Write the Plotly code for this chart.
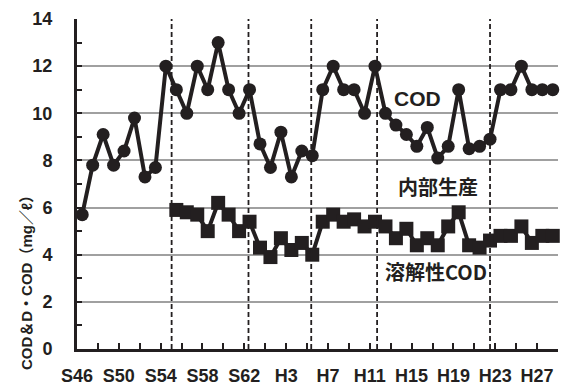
import plotly.graph_objects as go

# Annual mean values (mg/L)
cod_years = list(range(1971, 2017))
cod_values = [5.7, 7.8, 9.1, 7.8, 8.4, 9.8, 7.3, 7.7, 12.0, 11.0,
              10.0, 12.0, 11.0, 13.0, 11.0, 10.0, 11.0, 8.7, 7.7, 9.2,
              7.3, 8.4, 8.2, 11.0, 12.0, 11.0, 11.0, 10.0, 12.0, 10.0,
              9.5, 9.1, 8.6, 9.4, 8.1, 8.6, 11.0, 8.5, 8.6, 8.9,
              11.0, 11.0, 12.0, 11.0, 11.0, 11.0]

dcod_years = list(range(1980, 2017))
dcod_values = [5.9, 5.8, 5.7, 5.0, 6.2, 5.7, 5.0, 5.4, 4.3, 3.9,
               4.7, 4.2, 4.5, 4.0, 5.4, 5.7, 5.4, 5.5, 5.2, 5.4,
               5.2, 4.7, 5.1, 4.4, 4.7, 4.4, 5.2, 5.8, 4.4, 4.3,
               4.6, 4.8, 4.8, 5.2, 4.5, 4.8, 4.8]

# Era-name labels every four years
label_years = [1971, 1975, 1979, 1983, 1987, 1991, 1995, 1999, 2003, 2007, 2011, 2015]
label_text = ["S46", "S50", "S54", "S58", "S62", "H3", "H7", "H11", "H15", "H19", "H23", "H27"]

# Period boundaries drawn as dashed verticals
period_breaks = [1979.55, 1986.9, 1992.9, 1999.2, 2010.0]

INK = "#231f20"
SANS = "Liberation Sans, Arial, sans-serif"
TICK_FONT = dict(family=SANS, size=18, color=INK, weight="bold")

fig = go.Figure()

fig.add_trace(go.Scatter(
    x=cod_years, y=cod_values, mode="lines+markers",
    line=dict(color=INK, width=4),
    marker=dict(symbol="circle", size=13, color=INK),
    showlegend=False, cliponaxis=False,
))
fig.add_trace(go.Scatter(
    x=dcod_years, y=dcod_values, mode="lines+markers",
    line=dict(color=INK, width=4),
    marker=dict(symbol="square", size=14, color=INK),
    showlegend=False, cliponaxis=False,
))

for xb in period_breaks:
    fig.add_shape(type="line", xref="x", yref="y", x0=xb, x1=xb, y0=0, y1=14,
                  line=dict(color=INK, width=1.8, dash="5px,3px"), layer="above")

fig.add_annotation(text="COD", x=2003.1, y=10.63, xref="x", yref="y", showarrow=False,
                   font=dict(family=SANS, size=21, color=INK, weight="bold"))
fig.add_annotation(text="内部生産", x=2005.0, y=6.89, xref="x", yref="y", showarrow=False,
                   font=dict(family="Noto Sans CJK JP", size=20, color=INK, weight="bold"))
fig.add_annotation(text="溶解性COD", x=2004.8, y=3.29, xref="x", yref="y", showarrow=False,
                   font=dict(family="Noto Sans CJK JP", size=20, color=INK, weight="bold"))
fig.add_annotation(text="COD＆D・COD（mg／ℓ）", xref="paper", yref="paper",
                   x=-0.106, y=0.212, xanchor="center", yanchor="middle",
                   textangle=-90, showarrow=False,
                   font=dict(family="Liberation Sans, Noto Sans CJK JP", size=15,
                             color=INK, weight="bold"))

fig.update_xaxes(
    range=[1970.5, 2016.5],
    tickvals=[y - 0.5 for y in label_years], ticktext=label_text, tickangle=0,
    ticks="inside", ticklen=6, tickwidth=2, tickcolor=INK,
    minor=dict(ticks="inside", ticklen=6, tickwidth=2, tickcolor=INK,
               tick0=1970.5, dtick=2, showgrid=False),
    showgrid=False, zeroline=False, automargin=False,
    showline=True, linecolor=INK, linewidth=3,
    tickfont=TICK_FONT, ticklabelstandoff=8,
)
fig.update_yaxes(
    range=[0, 14], tickvals=list(range(0, 15, 2)),
    ticks="inside", ticklen=5, tickwidth=2, tickcolor=INK,
    minor=dict(ticks="inside", ticklen=5, tickwidth=2, tickcolor=INK,
               tick0=0, dtick=1, showgrid=False),
    showgrid=True, gridcolor="#a0a0a0", gridwidth=1.5,
    zeroline=False, automargin=False,
    showline=True, linecolor=INK, linewidth=3,
    tickfont=TICK_FONT, ticklabelstandoff=18,
)

fig.update_layout(
    width=565, height=387,
    margin=dict(l=77, r=7, t=19, b=38),
    paper_bgcolor="white", plot_bgcolor="white",
)

fig.write_html("out.html")
